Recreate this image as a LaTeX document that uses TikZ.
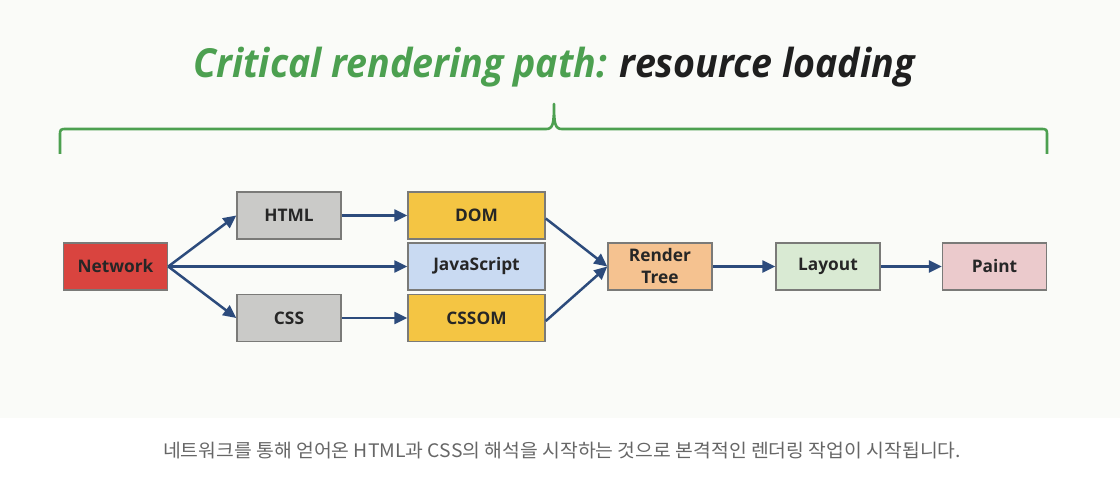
\documentclass[tikz,border=0pt]{standalone}
\usepackage{fontspec}
\setmainfont{Open Sans}
\newfontfamily\krfont{Noto Sans CJK KR}
\usetikzlibrary{arrows.meta}
\definecolor{bgtop}{HTML}{FAFBF8}
\definecolor{grn}{HTML}{4CA050}
\definecolor{arr}{HTML}{2C4B7C}
\definecolor{cRed}{HTML}{D9443F}
\definecolor{cGray}{HTML}{CACAC8}
\definecolor{cYel}{HTML}{F4C543}
\definecolor{cBlue}{HTML}{C9DAF2}
\definecolor{cOr}{HTML}{F5C290}
\definecolor{cGrn}{HTML}{D9EAD3}
\definecolor{cPink}{HTML}{EBCACC}
\definecolor{bord}{HTML}{7A7A78}
\definecolor{cap}{HTML}{666666}
\tikzset{
  box/.style={draw=bord, line width=1.5pt, minimum height=47pt, inner sep=0pt, align=center,
    font=\fontsize{17.3}{19}\selectfont\bfseries, text=black!85},
  smallbox/.style={box, minimum width=104pt},
  widebox/.style={box, minimum width=137pt},
  conn/.style={draw=arr, line width=2.5pt, -{Triangle[length=13pt,width=12pt]}},
}
\begin{document}
\begin{tikzpicture}[x=1pt,y=-1pt]
\useasboundingbox (0,0) rectangle (1120,484);
\fill[white] (0,0) rectangle (1120,484);
\fill[bgtop] (0,0) rectangle (1120,418);
% title
\node[anchor=base, inner sep=0pt, xscale=0.94, font=\fontsize{40}{44}\selectfont\bfseries\itshape] (title) at (554,78)
  {\textcolor{grn}{Critical rendering path:} \textcolor{black!88}{resource loading}};
% brace
\draw[grn, line width=2.6pt, line join=round] (60,154) -- (60,136) .. controls (60,129) .. (67,129)
  -- (546,129) .. controls (553,129) and (554,124) .. (554,104) .. controls (554,124) and (555,129) .. (562,129)
  -- (1040,129) .. controls (1047,129) .. (1047,136) -- (1047,154);
% nodes
\node[smallbox, fill=cRed] (net) at (115.5,266.5) {Network};
\node[smallbox, fill=cGray] (html) at (289,215.5) {HTML};
\node[smallbox, fill=cGray] (css) at (289,318) {CSS};
\node[widebox, fill=cYel] (dom) at (476.5,215.5) {DOM};
\node[widebox, fill=cBlue] (js) at (476.5,266.5) {JavaScript};
\node[widebox, fill=cYel] (cssom) at (476.5,318) {CSSOM};
\node[smallbox, fill=cOr, font=\fontsize{17.3}{22}\selectfont\bfseries] (rt) at (660,266.5) {Render\\Tree};
\node[smallbox, fill=cGrn] (lay) at (828,266.5) {Layout};
\node[smallbox, fill=cPink] (paint) at (994.5,266.5) {Paint};
% connectors
\draw[conn] (net.east) -- (html.west);
\draw[conn] (net.east) -- (css.west);
\draw[conn] (net.east) -- (js.west);
\draw[conn] (html.east) -- (dom.west);
\draw[conn] (css.east) -- (cssom.west);
\draw[conn] ([yshift=-3pt]dom.east) -- (rt.west);
\draw[conn] ([yshift=-3pt]cssom.east) -- (rt.west);
\draw[conn] (rt.east) -- (lay.west);
\draw[conn] (lay.east) -- (paint.west);
% caption
\node[anchor=base, inner sep=0pt, text=cap, xscale=1.04, font=\krfont\fontsize{18.6}{22}\selectfont] (caption) at (562,457)
  {네트워크를 통해 얻어온 HTML과 CSS의 해석을 시작하는 것으로 본격적인 렌더링 작업이 시작됩니다.};
\end{tikzpicture}
\end{document}
